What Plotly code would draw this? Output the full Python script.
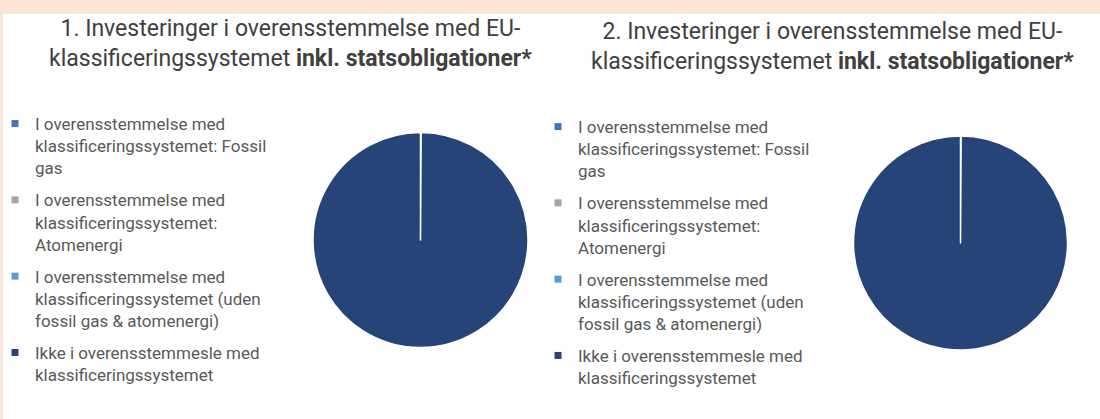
import plotly.graph_objects as go

W, H = 1100, 419

labels = [
    "I overensstemmelse med<br>klassificeringssystemet: Fossil<br>gas",
    "I overensstemmelse med<br>klassificeringssystemet:<br>Atomenergi",
    "I overensstemmelse med<br>klassificeringssystemet (uden<br>fossil gas & atomenergi)",
    "Ikke i overensstemmesle med<br>klassificeringssystemet",
]
colors = ["#4472C4", "#A5A5A5", "#5B9BD5", "#264478"]

values_1 = [0.0, 0.0, 0.1, 99.9]
values_2 = [0.0, 0.0, 0.1, 99.9]

titles = [
    "1. Investeringer i overensstemmelse med EU-<br>klassificeringssystemet <b>inkl. statsobligationer*</b>",
    "2. Investeringer i overensstemmelse med EU-<br>klassificeringssystemet <b>inkl. statsobligationer*</b>",
]

FONT = "Roboto"


def px_x(v):
    return v / W


def px_y(v):
    return 1 - v / H


fig = go.Figure()

pie_domains = [
    dict(x=[px_x(313), px_x(528)], y=[px_y(347.5), px_y(132.5)]),
    dict(x=[px_x(853.5), px_x(1067.5)], y=[px_y(350), px_y(136)]),
]
for k, (vals, dom) in enumerate(zip([values_1, values_2], pie_domains)):
    fig.add_trace(go.Pie(
        labels=labels, values=vals, sort=False, direction="clockwise", rotation=0,
        marker=dict(colors=colors, line=dict(color="white", width=1.5)),
        textinfo="none", showlegend=False, domain=dom,
    ))

# legend entries (one group per category so the gap between entries can be set)
for k, leg in enumerate(["legend", "legend2"]):
    for i, (lab, col) in enumerate(zip(labels, colors)):
        fig.add_trace(go.Scatter(
            x=[None], y=[None], mode="markers", name=lab,
            marker=dict(symbol="square", size=7, color=col),
            legend=leg, legendgroup=f"{leg}_{i}", hoverinfo="skip",
        ))

legend_style = dict(
    font=dict(family=FONT, size=17, color="#595959"),
    bgcolor="rgba(0,0,0,0)",
    xanchor="left", yanchor="top",
    traceorder="grouped", valign="top", tracegroupgap=7,
)

fig.update_layout(
    width=W, height=H,
    margin=dict(l=0, r=0, t=0, b=0, autoexpand=False),
    paper_bgcolor="#FBE5D6",
    plot_bgcolor="rgba(0,0,0,0)",
    xaxis=dict(visible=False),
    yaxis=dict(visible=False),
    showlegend=True,
    legend=dict(x=px_x(-5), y=px_y(106), **legend_style),
    legend2=dict(x=px_x(538), y=px_y(109), **legend_style),
    shapes=[dict(
        type="rect", xref="paper", yref="paper",
        x0=px_x(3), x1=1.01, y0=-0.01, y1=px_y(14),
        fillcolor="white", line=dict(width=0), layer="below",
    )],
    annotations=[
        dict(text=titles[0], x=px_x(290), y=px_y(43), xref="paper", yref="paper",
             xanchor="center", yanchor="middle", showarrow=False, align="center",
             font=dict(family=FONT, size=23, color="#404040")),
        dict(text=titles[1], x=px_x(832), y=px_y(46), xref="paper", yref="paper",
             xanchor="center", yanchor="middle", showarrow=False, align="center",
             font=dict(family=FONT, size=23, color="#404040")),
    ],
)

fig.write_html("out.html", config={"displayModeBar": False},
               post_script="document.body.style.margin='0';")
